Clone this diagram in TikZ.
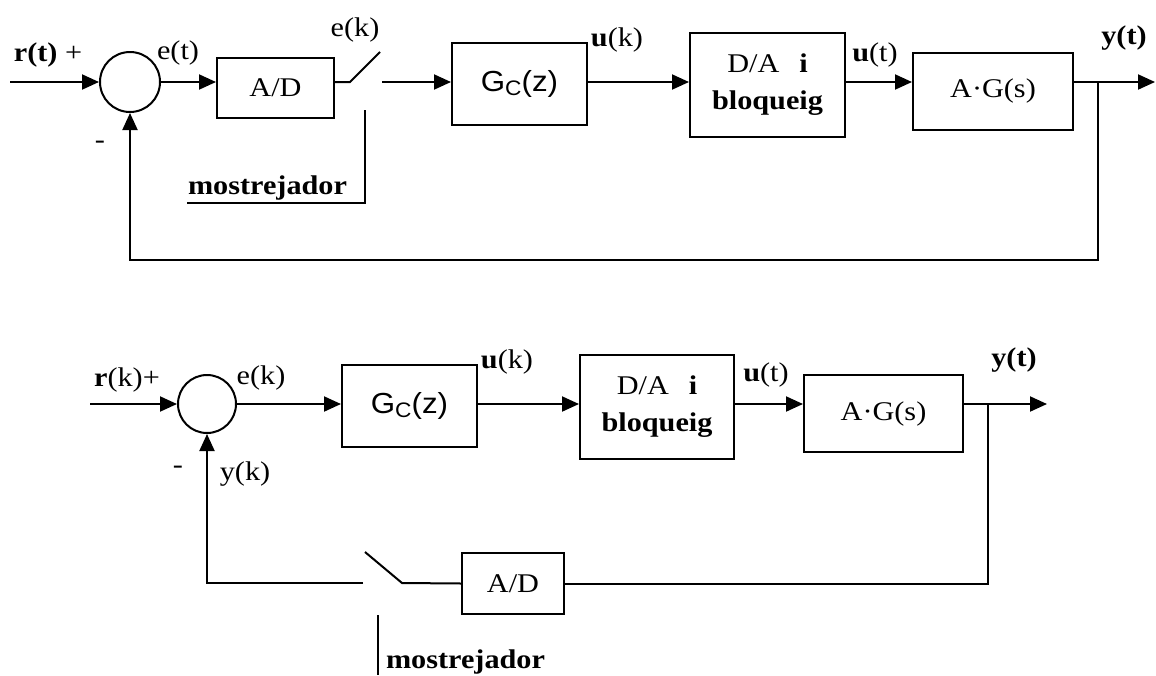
\documentclass[tikz,border=0pt]{standalone}
\usepackage{fontspec}
\setmainfont{Liberation Serif}[FakeStretch=1.12]
\setsansfont{Liberation Sans}[FakeStretch=1.08]
\usetikzlibrary{arrows.meta}
\newcommand{\gcz}{{\sffamily\fontsize{29}{30}\selectfont G\raisebox{-0.28ex}{\fontsize{21}{22}\selectfont C}(z)}}
\begin{document}
\begin{tikzpicture}[x=1pt,y=-1pt,line width=2pt,
  >={Triangle[length=17pt,width=15pt]},
  every node/.style={font=\fontsize{27}{37}\selectfont,inner sep=0pt},
  blk/.style={draw,line width=2pt,align=center},
  sumc/.style={draw,circle,line width=2pt,minimum size=60pt},
  lbl/.style={}]
\useasboundingbox (0,0) rectangle (1156,675);

% ---------------- top diagram ----------------
\node[sumc] (s1) at (130,82) {};
\node[blk,minimum width=117pt,minimum height=60pt] (ad1) at (275.5,88) {A/D};
\node[blk,minimum width=135pt,minimum height=82pt] (gc1) at (519.5,84) {\gcz};
\node[blk,minimum width=155pt,minimum height=104pt] (da1) at (767.5,85) {D/A\hspace{20pt}\textbf{i}\\\textbf{bloqueig}};
\node[blk,minimum width=160pt,minimum height=77pt] (ag1) at (993,91.5) {A·G(s)};

\coordinate (in1) at (10,82);
\coordinate (sw1a) at (350,82);
\coordinate (sw1b) at (380,52);
\coordinate (sw1c) at (382,82);
\coordinate (j1) at (1098,82);
\coordinate (out1) at (1155,82);
\coordinate (m1a) at (365,110);
\coordinate (m1b) at (365,203);
\coordinate (m1c) at (187,203);

\draw[->] (in1) -- (s1.west);
\draw[->] (s1.east) -- (s1.east -| ad1.west);
\draw (s1.east -| ad1.east) -- (sw1a) -- (sw1b);
\draw[->] (sw1c) -- (sw1c -| gc1.west);
\draw[->] (sw1c -| gc1.east) -- (sw1c -| da1.west);
\draw[->] (sw1c -| da1.east) -- (sw1c -| ag1.west);
\draw[->] (sw1c -| ag1.east) -- (out1);
\draw[->] (j1) -- ++(0,178) -| (s1.south);
\draw (m1a) -- (m1b) -- (m1c);

\node[lbl] (lr1) at (48,55) {\textbf{r(t)} +};
\node[lbl] (le1) at (178,53) {e(t)};
\node[lbl] (lek1) at (355,30) {e(k)};
\node[lbl] (luk1) at (617,40) {\textbf{u}(k)};
\node[lbl] (lut1) at (875,55) {\textbf{u}(t)};
\node[lbl] (ly1) at (1124,38) {\textbf{y(t)}};
\node[lbl] (lm1) at (100,145) {-};
\node[lbl,anchor=base west] (mt1) at (187,194) {\textbf{mostrejador}};

% ---------------- bottom diagram ----------------
\node[sumc,minimum size=58pt] (s2) at (207,404) {};
\node[blk,minimum width=135pt,minimum height=82pt] (gc2) at (409.5,406) {\gcz};
\node[blk,minimum width=154pt,minimum height=104pt] (da2) at (657,407) {D/A\hspace{20pt}\textbf{i}\\\textbf{bloqueig}};
\node[blk,minimum width=159pt,minimum height=77pt] (ag2) at (883.5,413.5) {A·G(s)};
\node[blk,minimum width=102pt,minimum height=61pt] (ad2) at (513,583.5) {A/D};

\coordinate (in2) at (90,404);
\coordinate (j2) at (988,404);
\coordinate (out2) at (1047,404);
\coordinate (sw2a) at (402,583);
\coordinate (sw2b) at (365,552);
\coordinate (sw2c) at (363,583);
\coordinate (m2a) at (378,615);
\coordinate (m2b) at (378,675);

\draw[->] (in2) -- (s2.west);
\draw[->] (s2.east) -- (s2.east -| gc2.west);
\draw[->] (s2.east -| gc2.east) -- (s2.east -| da2.west);
\draw[->] (s2.east -| da2.east) -- (s2.east -| ag2.west);
\draw[->] (s2.east -| ag2.east) -- (out2);
\draw (j2) |- (ad2.east);
\draw (ad2.west) -- (sw2a) -- (sw2b);
\draw[->] (sw2c) -| (s2.south);
\draw (m2a) -- (m2b);

\node[lbl] (lr2) at (127,380) {\textbf{r}(k)+};
\node[lbl] (le2) at (261,378) {e(k)};
\node[lbl] (luk2) at (507,362) {\textbf{u}(k)};
\node[lbl] (lut2) at (766,375) {\textbf{u}(t)};
\node[lbl] (ly2) at (1014,360) {\textbf{y(t)}};
\node[lbl] (lm2) at (178,470) {-};
\node[lbl] (lyk2) at (245,474) {y(k)};
\node[lbl,anchor=base west] (mt2) at (385,668) {\textbf{mostrejador}};
\end{tikzpicture}
\end{document}
